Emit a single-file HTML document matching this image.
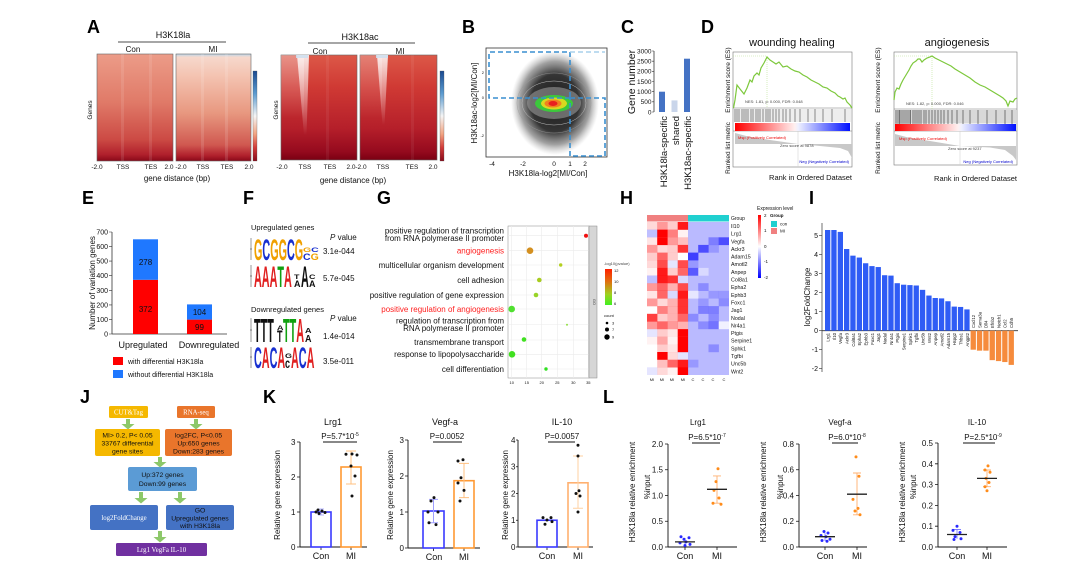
<!DOCTYPE html>
<html><head><meta charset="utf-8">
<style>
html,body{margin:0;padding:0;background:#fff;width:1079px;height:584px;overflow:hidden}
svg{display:block}
text{font-family:"Liberation Sans",Arial,sans-serif;fill:#111}
.s{font-family:"Liberation Serif",serif;fill:#fff;font-size:6.8px}
.pl{font-size:18px;font-weight:bold;fill:#000}
.t6{font-size:6.5px}
.t7{font-size:7px}
.t8{font-size:8px}
.t9{font-size:9px}
.tiny{font-size:4px;fill:#444}
</style></head><body>
<svg width="1079" height="584" viewBox="0 0 1079 584" xmlns="http://www.w3.org/2000/svg">
<defs>
<linearGradient id="laC" x1="0" y1="0" x2="0" y2="1">
<stop offset="0" stop-color="#ec9c88"/><stop offset=".45" stop-color="#e07a68"/><stop offset=".8" stop-color="#cc4a44"/><stop offset=".94" stop-color="#b0202c"/><stop offset="1" stop-color="#880818"/></linearGradient>
<linearGradient id="laM" x1="0" y1="0" x2="0" y2="1">
<stop offset="0" stop-color="#bcd6ea"/><stop offset=".03" stop-color="#f6d8cc"/><stop offset=".2" stop-color="#f4c4b2"/><stop offset=".55" stop-color="#e89880"/><stop offset=".85" stop-color="#d05850"/><stop offset=".95" stop-color="#b0202c"/><stop offset="1" stop-color="#880818"/></linearGradient>
<linearGradient id="ac" x1="0" y1="0" x2="0" y2="1">
<stop offset="0" stop-color="#dc5848"/><stop offset=".3" stop-color="#d03a34"/><stop offset=".7" stop-color="#b51f2a"/><stop offset=".92" stop-color="#950a1e"/><stop offset="1" stop-color="#7a0012"/></linearGradient>
<linearGradient id="vw" x1="0" y1="0" x2="0" y2="1">
<stop offset="0" stop-color="#fff" stop-opacity=".85"/><stop offset="1" stop-color="#fff" stop-opacity="0"/></linearGradient>
<linearGradient id="vw2" x1="0" y1="0" x2="0" y2="1">
<stop offset="0" stop-color="#fff" stop-opacity=".35"/><stop offset=".6" stop-color="#fff" stop-opacity="0"/></linearGradient>
<linearGradient id="cb" x1="0" y1="0" x2="0" y2="1">
<stop offset="0" stop-color="#1a4a90"/><stop offset=".25" stop-color="#5b9bd0"/><stop offset=".5" stop-color="#f5f5f5"/><stop offset=".7" stop-color="#f2a482"/><stop offset=".85" stop-color="#d23c3a"/><stop offset="1" stop-color="#8a0a1a"/></linearGradient>
<radialGradient id="cloud" cx=".5" cy=".5" r=".5">
<stop offset="0" stop-color="#1a1a1a"/><stop offset=".55" stop-color="#2a2a2a" stop-opacity=".95"/><stop offset=".8" stop-color="#555" stop-opacity=".55"/><stop offset="1" stop-color="#999" stop-opacity="0"/></radialGradient>
<linearGradient id="gsea" x1="0" y1="0" x2="1" y2="0">
<stop offset="0" stop-color="#ff0000"/><stop offset=".52" stop-color="#fff0f0"/><stop offset=".55" stop-color="#eef0ff"/><stop offset="1" stop-color="#0010ff"/></linearGradient>
<linearGradient id="gleg" x1="0" y1="0" x2="0" y2="1">
<stop offset="0" stop-color="#ff2000"/><stop offset=".35" stop-color="#e07010"/><stop offset=".7" stop-color="#a0d020"/><stop offset="1" stop-color="#40f020"/></linearGradient>
<linearGradient id="hleg" x1="0" y1="0" x2="0" y2="1">
<stop offset="0" stop-color="#ff0000"/><stop offset=".5" stop-color="#ffffff"/><stop offset="1" stop-color="#0000ff"/></linearGradient>
</defs>

<!-- ============ A ============ -->
<text class="pl" x="87" y="33">A</text>
<text class="t9" x="173" y="38" text-anchor="middle">H3K18la</text>
<line x1="118" y1="42" x2="226" y2="42" stroke="#888" stroke-width="1.5"/>
<text class="t8" x="133" y="52" text-anchor="middle">Con</text>
<text class="t8" x="213" y="52" text-anchor="middle">MI</text>
<rect x="97" y="54" width="76" height="107" fill="url(#laC)" stroke="#666" stroke-width=".6"/>
<rect x="121" y="54" width="3" height="107" fill="#fff" opacity=".1"/>
<rect x="149" y="54" width="3" height="107" fill="#fff" opacity=".1"/>
<rect x="176" y="54" width="75" height="107" fill="url(#laM)" stroke="#666" stroke-width=".6"/>
<rect x="201" y="54" width="3" height="107" fill="#fff" opacity=".12"/>
<rect x="225" y="54" width="3" height="107" fill="#fff" opacity=".12"/>
<rect x="253" y="71" width="4" height="90" fill="url(#cb)" stroke="#555" stroke-width=".3"/>
<text class="t6" x="92" y="110" transform="rotate(-90 92 110)" text-anchor="middle">Genes</text>
<g class="t6" text-anchor="middle">
<text x="97" y="169">-2.0</text><text x="123" y="169">TSS</text><text x="151" y="169">TES</text><text x="169" y="169">2.0</text>
<text x="181" y="169">-2.0</text><text x="203" y="169">TSS</text><text x="227" y="169">TES</text><text x="249" y="169">2.0</text>
</g>
<text class="t8" x="177" y="181" text-anchor="middle">gene distance (bp)</text>

<text class="t9" x="360" y="40" text-anchor="middle">H3K18ac</text>
<line x1="308" y1="43" x2="415" y2="43" stroke="#888" stroke-width="1.5"/>
<text class="t8" x="320" y="54" text-anchor="middle">Con</text>
<text class="t8" x="400" y="54" text-anchor="middle">MI</text>
<rect x="281" y="55" width="76" height="105" fill="url(#ac)" stroke="#666" stroke-width=".6"/>
<rect x="281" y="55" width="23" height="105" fill="url(#vw2)"/>
<polygon points="297,55 309,55 306.5,135 304,135" fill="url(#vw)"/>
<rect x="296" y="55" width="12" height="3" fill="#cfe0f0" opacity=".9"/>
<rect x="326" y="55" width="3" height="105" fill="#fff" opacity=".06"/>
<rect x="360" y="55" width="77" height="105" fill="url(#ac)" stroke="#666" stroke-width=".6"/>
<rect x="360" y="55" width="22" height="105" fill="url(#vw2)" opacity=".7"/>
<polygon points="377,55 388,55 384.5,125 382.5,125" fill="url(#vw)"/>
<rect x="376" y="55" width="12" height="3" fill="#cfe0f0" opacity=".9"/>
<rect x="411" y="55" width="3" height="105" fill="#fff" opacity=".06"/>
<rect x="440" y="71" width="4" height="90" fill="url(#cb)" stroke="#555" stroke-width=".3"/>
<text class="t6" x="278" y="110" transform="rotate(-90 278 110)" text-anchor="middle">Genes</text>
<g class="t6" text-anchor="middle">
<text x="282" y="169">-2.0</text><text x="305" y="169">TSS</text><text x="330" y="169">TES</text><text x="351" y="169">2.0</text>
<text x="361" y="169">-2.0</text><text x="383" y="169">TSS</text><text x="412" y="169">TES</text><text x="433" y="169">2.0</text>
</g>
<text class="t8" x="353" y="183" text-anchor="middle">gene distance (bp)</text>

<!-- ============ B ============ -->
<text class="pl" x="462" y="33">B</text>
<rect x="486" y="48" width="121" height="109" fill="#fff" stroke="#333" stroke-width=".8"/>
<ellipse cx="555" cy="103" rx="44" ry="52" fill="url(#cloud)"/>
<ellipse cx="554" cy="103" rx="27" ry="16" fill="#9a9a9a" opacity=".6"/>
<ellipse cx="554" cy="103" rx="32" ry="22" fill="none" stroke="#bbb" stroke-width=".5"/>
<ellipse cx="554" cy="103" rx="37" ry="30" fill="none" stroke="#999" stroke-width=".4"/>
<ellipse cx="554" cy="103.5" rx="19" ry="8.5" fill="#3cc83c"/>
<ellipse cx="554" cy="103.5" rx="13" ry="6" fill="#d8d820"/>
<ellipse cx="553" cy="103.5" rx="8.5" ry="4" fill="#f08020"/>
<ellipse cx="553" cy="103.5" rx="4.5" ry="2.5" fill="#e82020"/>
<g stroke="#3a8fd0" stroke-width="1.6" stroke-dasharray="5,3" fill="none">
<path d="M570,98 H489 V52 H570 V98"/>
<path d="M570,98 H605 V156 H570 Z"/>
</g>
<line x1="570" y1="52" x2="605" y2="52" stroke="#a8d0ec" stroke-width="1.6" stroke-dasharray="5,3"/>
<g class="tiny" text-anchor="end"><text x="484" y="74">2</text><text x="484" y="99">0</text><text x="484" y="137">-2</text></g>
<g class="t6" text-anchor="middle"><text x="492" y="166">-4</text><text x="523" y="166">-2</text><text x="554" y="166">0</text><text x="570" y="166">1</text><text x="585" y="166">2</text></g>
<text class="t8" x="548" y="176" text-anchor="middle">H3K18la-log2[MI/Con]</text>
<text class="t8" x="477" y="103" transform="rotate(-90 477 103)" text-anchor="middle">H3K18ac-log2[MI/Con]</text>

<!-- ============ C ============ -->
<text class="pl" x="621" y="33">C</text>
<line x1="654" y1="51" x2="654" y2="112" stroke="#333" stroke-width=".8"/>
<g stroke="#333" stroke-width=".6"><path d="M652,51H654M652,61.2H654M652,71.3H654M652,81.5H654M652,91.7H654M652,101.8H654M652,112H654"/></g>
<g style="font-size:6.5px" text-anchor="end">
<text x="651.5" y="53.3">3000</text><text x="651.5" y="63.5">2500</text><text x="651.5" y="73.6">2000</text><text x="651.5" y="83.8">1500</text><text x="651.5" y="94">1000</text><text x="651.5" y="104.1">500</text><text x="651.5" y="114.3">0</text>
</g>
<text x="635" y="82" transform="rotate(-90 635 82)" text-anchor="middle" style="font-size:10.5px">Gene number</text>
<rect x="659" y="91.7" width="6" height="20.3" fill="#4472c4"/>
<rect x="671.5" y="100.4" width="6" height="11.6" fill="#c9d5ea"/>
<rect x="684" y="58.7" width="6" height="53.3" fill="#4472c4"/>
<g style="font-size:9.5px" text-anchor="end">
<text x="667" y="116" transform="rotate(-90 667 116)">H3K18la-specific</text>
<text x="679" y="116" transform="rotate(-90 679 116)">shared</text>
<text x="691" y="116" transform="rotate(-90 691 116)">H3K18ac-specific</text>
</g>

<!-- ============ D ============ -->
<text class="pl" x="701" y="33">D</text>
<text x="792" y="46" text-anchor="middle" style="font-size:11px">wounding healing</text>
<rect x="733" y="52" width="119" height="115" fill="#fff" stroke="#777" stroke-width=".6"/>
<line x1="733" y1="108" x2="852" y2="108" stroke="#777" stroke-width=".5"/>
<line x1="733" y1="131" x2="852" y2="131" stroke="#777" stroke-width=".5"/>
<rect x="734" y="109" width="117" height="13" fill="#eee"/>
<path d="M735 109V122M737 109V122M739 109V122M742 109V122M744 109V122M746 109V122M748 109V122M751 109V122M753 109V122M756 109V122M758 109V122M760 109V122M763 109V122M766 109V122M768 109V122M770 109V122M773 109V122M776 109V122M779 109V122M783 109V122M786 109V122M790 109V122M795 109V122M800 109V122M808 109V122M815 109V122M823 109V122M832 109V122M845 109V122" stroke="#222" stroke-width=".5"/>
<rect x="735" y="123" width="115" height="8" fill="url(#gsea)"/>
<path d="M735,133 L750,137 L770,140 L798,144 L820,146 L840,148 L848,151 L852,158 L852,144 L735,144 Z" fill="#c8c8c8"/>
<line x1="798" y1="131" x2="798" y2="167" stroke="#ccc" stroke-width=".5"/>
<line x1="733" y1="56" x2="767" y2="56" stroke="#b8e090" stroke-width=".6" stroke-dasharray="1,1"/>
<line x1="767" y1="56" x2="767" y2="108" stroke="#b8e090" stroke-width=".6" stroke-dasharray="1,1"/>
<path d="M733.5,108 L735,100 737,85 740,89 744,94 747,88 750,80 752,82 754,76 757,73 759,75 761,68 764,63 767,57 770,60 773,62 776,64 779,62 783,67 787,66 791,69 795,71 799,72 803,75 807,77 811,80 815,82 819,84 823,87 827,88 831,91 835,93 838,96 840,97 843,99 845,98 847,102 850,105 852,108" fill="none" stroke="#7dc83c" stroke-width="1.2"/>
<text class="tiny" x="745" y="103">NES: 1.81, p: 0.000, FDR: 0.048</text>
<text class="tiny" x="738" y="139" style="fill:#e00">Msp (Positively Correlated)</text>
<text class="tiny" x="780" y="147">Zero score at 9878</text>
<text class="tiny" x="849" y="163" text-anchor="end" style="fill:#00c">Neg (Negatively Correlated)</text>
<text x="730" y="80" transform="rotate(-90 730 80)" text-anchor="middle" style="font-size:6.5px">Enrichment score (ES)</text>
<text x="730" y="148" transform="rotate(-90 730 148)" text-anchor="middle" style="font-size:6.5px">Ranked list metric</text>
<text x="852" y="180" text-anchor="end" style="font-size:7.5px">Rank in Ordered Dataset</text>

<text x="957" y="46" text-anchor="middle" style="font-size:11px">angiogenesis</text>
<rect x="894" y="52" width="123" height="113" fill="#fff" stroke="#777" stroke-width=".6"/>
<line x1="894" y1="109" x2="1017" y2="109" stroke="#777" stroke-width=".5"/>
<line x1="894" y1="131" x2="1017" y2="131" stroke="#777" stroke-width=".5"/>
<rect x="895" y="110" width="121" height="13.5" fill="#d8d8d8"/>
<path d="M896 110V124M898 110V124M899.5 110V124M901 110V124M903 110V124M905 110V124M907 110V124M909 110V124M910.5 110V124M913 110V124M915 110V124M917 110V124M919 110V124M921 110V124M924 110V124M926 110V124M929 110V124M932 110V124M935 110V124M938 110V124M941 110V124M944 110V124M948 110V124M952 110V124M957 110V124M963 110V124M970 110V124M978 110V124M987 110V124M996 110V124M1005 110V124M1012 110V124" stroke="#222" stroke-width=".55"/>
<rect x="895" y="124" width="121" height="7" fill="url(#gsea)"/>
<path d="M895,134 L910,138 L930,141 L960,146 L990,147.5 L1005,150 L1013,156 L1016,160 L1016,146 L895,146 Z" fill="#c8c8c8"/>
<line x1="960" y1="131" x2="960" y2="165" stroke="#ccc" stroke-width=".5"/>
<line x1="894" y1="56" x2="932" y2="56" stroke="#b8e090" stroke-width=".6" stroke-dasharray="1,1"/>
<line x1="932" y1="56" x2="932" y2="109" stroke="#b8e090" stroke-width=".6" stroke-dasharray="1,1"/>
<path d="M894,100 L895,92 897,88 899,89 901,84 903,80 906,75 909,70 911,66 913,63 916,61 918,59 920,59 922,62 924,60 927,58 930,57 932,56 935,58 939,60 943,62 947,64 951,66 955,69 960,72 965,75 970,78 975,82 980,85 985,87 990,90 995,93 1000,96 1003,98 1006,101 1008,106 1010,101 1013,102 1015,99 1017,98" fill="none" stroke="#7dc83c" stroke-width="1.2"/>
<text class="tiny" x="906" y="105">NES: 1.82, p: 0.000, FDR: 0.046</text>
<text class="tiny" x="899" y="140" style="fill:#e00">Msp (Positively Correlated)</text>
<text class="tiny" x="948" y="150">Zero score at 9237</text>
<text class="tiny" x="1013" y="163" text-anchor="end" style="fill:#00c">Neg (Negatively Correlated)</text>
<text x="880" y="80" transform="rotate(-90 880 80)" text-anchor="middle" style="font-size:6.5px">Enrichment score (ES)</text>
<text x="880" y="148" transform="rotate(-90 880 148)" text-anchor="middle" style="font-size:6.5px">Ranked list metric</text>
<text x="1017" y="181" text-anchor="end" style="font-size:7.5px">Rank in Ordered Dataset</text>

<!-- ============ E ============ -->
<text class="pl" x="82" y="204">E</text>
<line x1="112" y1="232" x2="112" y2="334" stroke="#333" stroke-width=".8"/>
<line x1="112" y1="334" x2="227" y2="334" stroke="#333" stroke-width=".8"/>
<path d="M109,232H112M109,246.6H112M109,261.1H112M109,275.7H112M109,290.3H112M109,304.9H112M109,319.4H112M109,334H112" stroke="#333" stroke-width=".6"/>
<g class="t7" text-anchor="end">
<text x="108" y="234.5">700</text><text x="108" y="249">600</text><text x="108" y="263.5">500</text><text x="108" y="278">400</text><text x="108" y="292.8">300</text><text x="108" y="307.4">200</text><text x="108" y="322">100</text><text x="108" y="336.5">0</text>
</g>
<rect x="133" y="279.8" width="25" height="54.2" fill="#ff0000"/>
<rect x="133" y="239.3" width="25" height="40.5" fill="#1f78ff"/>
<rect x="187" y="319.6" width="25" height="14.4" fill="#ff0000"/>
<rect x="187" y="304.4" width="25" height="15.2" fill="#1f78ff"/>
<g class="t8" text-anchor="middle">
<text x="145.5" y="265">278</text><text x="145.5" y="312">372</text><text x="199.5" y="315">104</text><text x="199.5" y="330">99</text>
</g>
<text class="t8" x="95" y="283" transform="rotate(-90 95 283)" text-anchor="middle">Number of variation genes</text>
<text class="t9" x="143" y="348" text-anchor="middle">Upregulated</text>
<text class="t9" x="209" y="348" text-anchor="middle">Downregulated</text>
<rect x="113" y="357" width="10" height="8" fill="#ff0000"/>
<rect x="113" y="370" width="10" height="8" fill="#1f78ff"/>
<text class="t7" x="128" y="364">with differential H3K18la</text>
<text class="t7" x="128" y="377">without differential H3K18la</text>

<!-- ============ F ============ -->
<text class="pl" x="243" y="204">F</text>
<text x="251" y="230" style="font-size:7.5px">Upregulated genes</text>
<text class="t8" x="330" y="240"><tspan font-style="italic">P</tspan> value</text>
<text class="t8" x="323" y="254">3.1e-044</text>
<text class="t8" x="323" y="281">5.7e-045</text>
<text x="251" y="312" style="font-size:7.5px">Downregulated genes</text>
<text class="t8" x="330" y="321"><tspan font-style="italic">P</tspan> value</text>
<text class="t8" x="323" y="339">1.4e-014</text>
<text class="t8" x="323" y="364">3.5e-011</text>
<g stroke="#333" stroke-width=".5"><path d="M251,238V260M251,265V287M251,318V342M251,347V368M250,249H252M250,276H252M250,330H252M250,357H252"/></g>
<g transform="translate(254,260) scale(0.36,1)" style="font-size:30px;font-weight:bold">
<text x="0" y="0"><tspan fill="#f0a000">G</tspan><tspan fill="#1830d0">C</tspan><tspan fill="#f0a000">GG</tspan><tspan fill="#1830d0">C</tspan><tspan fill="#f0a000">G</tspan></text>
</g>
<g transform="translate(303,260) scale(0.35,0.3)" style="font-size:30px;font-weight:bold"><text x="0" y="0"><tspan fill="#1830d0">C</tspan><tspan fill="#f0a000">G</tspan></text></g>
<g transform="translate(303,252) scale(0.35,0.2)" style="font-size:30px;font-weight:bold"><text x="0" y="0"><tspan fill="#f0a000">G</tspan><tspan fill="#1830d0">C</tspan></text></g>
<g transform="translate(254,287) scale(0.36,1)" style="font-size:30px;font-weight:bold">
<text x="0" y="0"><tspan fill="#e02020">AAA</tspan><tspan fill="#10a010">T</tspan><tspan fill="#e02020">A</tspan></text>
</g>
<g transform="translate(294,287) scale(0.3,0.3)" style="font-size:30px;font-weight:bold"><text x="0" y="0" fill="#e02020">A</text></g>
<g transform="translate(294,279) scale(0.3,0.2)" style="font-size:30px;font-weight:bold"><text x="0" y="0" fill="#10a010">T</text></g>
<g transform="translate(301,287) scale(0.36,1)" style="font-size:30px;font-weight:bold"><text x="0" y="0" fill="#e02020">A</text></g>
<g transform="translate(309,287) scale(0.3,0.3)" style="font-size:30px;font-weight:bold"><text x="0" y="0" fill="#e02020">A</text></g>
<g transform="translate(309,279) scale(0.3,0.2)" style="font-size:30px;font-weight:bold"><text x="0" y="0" fill="#1830d0">C</text></g>
<g transform="translate(254,342) scale(0.36,1.1)" style="font-size:30px;font-weight:bold">
<text x="0" y="0" fill="#10a010">TTT</text>
</g>
<g transform="translate(277,342) scale(0.3,0.55)" style="font-size:30px;font-weight:bold"><text x="0" y="0" fill="#10a010">T</text></g>
<g transform="translate(277,330) scale(0.3,0.2)" style="font-size:30px;font-weight:bold"><text x="0" y="0" fill="#e02020">A</text></g>
<g transform="translate(283,342) scale(0.36,1.1)" style="font-size:30px;font-weight:bold">
<text x="0" y="0"><tspan fill="#10a010">TT</tspan><tspan fill="#e02020">A</tspan></text>
</g>
<g transform="translate(305,342) scale(0.3,0.35)" style="font-size:30px;font-weight:bold"><text x="0" y="0" fill="#e02020">A</text></g>
<g transform="translate(305,333) scale(0.3,0.25)" style="font-size:30px;font-weight:bold"><text x="0" y="0" fill="#e02020">A</text></g>
<g transform="translate(254,368) scale(0.36,1)" style="font-size:30px;font-weight:bold">
<text x="0" y="0"><tspan fill="#1830d0">C</tspan><tspan fill="#e02020">A</tspan><tspan fill="#1830d0">C</tspan><tspan fill="#e02020">A</tspan></text>
</g>
<g transform="translate(285,368) scale(0.3,0.45)" style="font-size:30px;font-weight:bold"><text x="0" y="0" fill="#1830d0">c</text></g>
<g transform="translate(285,358) scale(0.3,0.2)" style="font-size:30px;font-weight:bold"><text x="0" y="0" fill="#f0a000">G</text></g>
<g transform="translate(291,368) scale(0.36,1)" style="font-size:30px;font-weight:bold">
<text x="0" y="0"><tspan fill="#e02020">A</tspan><tspan fill="#1830d0">C</tspan><tspan fill="#e02020">A</tspan></text>
</g>

<!-- ============ G ============ -->
<text class="pl" x="377" y="204">G</text>
<rect x="508" y="226" width="81" height="152" fill="#fff" stroke="#888" stroke-width=".5"/>
<g stroke="#ebebeb" stroke-width=".6">
<path d="M511.7,226V378M526.7,226V378M541.7,226V378M557.3,226V378M573.3,226V378M588.3,226V378"/>
<path d="M508,235.7H589M508,250.7H589M508,265H589M508,280H589M508,295H589M508,309H589M508,324.5H589M508,340H589M508,354.3H589M508,369H589"/>
</g>
<rect x="589" y="226" width="8" height="152" fill="#d6d6d6" stroke="#888" stroke-width=".5"/>
<text class="tiny" x="593" y="302" transform="rotate(90 593 302)" text-anchor="middle">GO</text>
<g text-anchor="end" style="font-size:8px">
<text x="504" y="233.3">positive regulation of transcription</text>
<text x="504" y="241.1">from RNA polymerase II promoter</text>
<text x="504" y="253.5" style="fill:#ff2020">angiogenesis</text>
<text x="504" y="267.8">multicellular organism development</text>
<text x="504" y="282.8">cell adhesion</text>
<text x="504" y="297.8">positive regulation of gene expression</text>
<text x="504" y="311.8" style="fill:#ff2020">positive regulation of angiogenesis</text>
<text x="504" y="323.3">regulation of transcription from</text>
<text x="504" y="331.1">RNA polymerase II promoter</text>
<text x="504" y="345">transmembrane transport</text>
<text x="504" y="357.1">response to lipopolysaccharide</text>
<text x="504" y="371.8">cell differentiation</text>
</g>
<circle cx="586" cy="235.7" r="2" fill="#f01010"/>
<circle cx="530" cy="250.7" r="3.3" fill="#d49020"/>
<circle cx="560.7" cy="265" r="1.7" fill="#b4d020"/>
<circle cx="539.3" cy="280" r="2.3" fill="#a8cc20"/>
<circle cx="536" cy="295" r="2.3" fill="#98d428"/>
<circle cx="511.7" cy="309" r="3.3" fill="#50e030"/>
<circle cx="567" cy="324.7" r="1" fill="#90e040"/>
<circle cx="524" cy="339.5" r="2.3" fill="#40e020"/>
<circle cx="512" cy="354.3" r="3.3" fill="#40e020"/>
<circle cx="546" cy="369" r="1.7" fill="#30e020"/>
<g class="tiny" text-anchor="middle"><text x="511.7" y="384">10</text><text x="526.7" y="384">15</text><text x="541.7" y="384">20</text><text x="557.3" y="384">25</text><text x="573.3" y="384">30</text><text x="588.3" y="384">35</text></g>
<text class="tiny" x="604" y="265">-log10(pvalue)</text>
<rect x="605" y="269" width="7" height="36" fill="url(#gleg)"/>
<g class="tiny"><text x="614" y="272">12</text><text x="614" y="283">10</text><text x="614" y="294">8</text><text x="614" y="305">6</text>
<text x="604" y="317">count</text><text x="612" y="324.5">3</text><text x="612" y="331">7</text><text x="612" y="338.5">9</text></g>
<circle cx="607" cy="323" r="1.3" fill="#000"/>
<circle cx="607" cy="329.5" r="2" fill="#000"/>
<circle cx="607" cy="337" r="2.7" fill="#000"/>

<!-- ============ H ============ -->
<text class="pl" x="620" y="204">H</text>
<rect x="647" y="215" width="41" height="6.5" fill="#f08080"/>
<rect x="688" y="215" width="41" height="6.5" fill="#20d0d0"/>
<text x="731" y="220" style="font-size:5px">Group</text>
<rect x="647" y="222" width="82" height="153" fill="#fff"/>
<rect x="688" y="222" width="41" height="153" fill="#0000ff" opacity=".27"/>
<g fill="#f00">
<rect x="647" y="222" width="10.4" height="7.8" opacity=".15"/><rect x="657.2" y="222" width="10.4" height="7.8" opacity=".4"/><rect x="667.5" y="222" width="10.4" height="7.8" opacity=".2"/><rect x="677.7" y="222" width="10.4" height="7.8" opacity=".9"/>
<rect x="657.2" y="229.6" width="10.4" height="7.8" opacity="1"/><rect x="667.5" y="229.6" width="10.4" height="7.8" opacity=".5"/><rect x="677.7" y="229.6" width="10.4" height="7.8" opacity=".05"/>
<rect x="647" y="237.3" width="10.4" height="7.8" opacity=".1"/><rect x="657.2" y="237.3" width="10.4" height="7.8" opacity="1"/><rect x="667.5" y="237.3" width="10.4" height="7.8" opacity=".4"/><rect x="677.7" y="237.3" width="10.4" height="7.8" opacity=".25"/>
<rect x="647" y="244.9" width="10.4" height="7.8" opacity=".4"/><rect x="657.2" y="244.9" width="10.4" height="7.8" opacity=".15"/><rect x="667.5" y="244.9" width="10.4" height="7.8" opacity=".2"/><rect x="677.7" y="244.9" width="10.4" height="7.8" opacity=".8"/>
<rect x="647" y="252.6" width="10.4" height="7.8" opacity=".2"/><rect x="657.2" y="252.6" width="10.4" height="7.8" opacity=".6"/><rect x="667.5" y="252.6" width="10.4" height="7.8" opacity=".2"/>
<rect x="647" y="260.2" width="10.4" height="7.8" opacity=".15"/><rect x="657.2" y="260.2" width="10.4" height="7.8" opacity=".7"/><rect x="677.7" y="260.2" width="10.4" height="7.8" opacity=".7"/>
<rect x="647" y="267.9" width="10.4" height="7.8" opacity=".05"/><rect x="657.2" y="267.9" width="10.4" height="7.8" opacity=".9"/><rect x="667.5" y="267.9" width="10.4" height="7.8" opacity=".2"/><rect x="677.7" y="267.9" width="10.4" height="7.8" opacity=".6"/>
<rect x="657.2" y="275.5" width="10.4" height="7.8" opacity=".9"/><rect x="667.5" y="275.5" width="10.4" height="7.8" opacity=".8"/>
<rect x="647" y="283.2" width="10.4" height="7.8" opacity=".4"/><rect x="657.2" y="283.2" width="10.4" height="7.8" opacity=".6"/><rect x="667.5" y="283.2" width="10.4" height="7.8" opacity=".3"/><rect x="677.7" y="283.2" width="10.4" height="7.8" opacity=".7"/>
<rect x="647" y="290.8" width="10.4" height="7.8" opacity=".1"/><rect x="657.2" y="290.8" width="10.4" height="7.8" opacity=".6"/><rect x="677.7" y="290.8" width="10.4" height="7.8" opacity=".9"/>
<rect x="647" y="298.5" width="10.4" height="7.8" opacity=".4"/><rect x="657.2" y="298.5" width="10.4" height="7.8" opacity=".15"/><rect x="667.5" y="298.5" width="10.4" height="7.8" opacity=".3"/><rect x="677.7" y="298.5" width="10.4" height="7.8" opacity=".8"/>
<rect x="657.2" y="306.1" width="10.4" height="7.8" opacity=".5"/><rect x="667.5" y="306.1" width="10.4" height="7.8" opacity=".3"/><rect x="677.7" y="306.1" width="10.4" height="7.8" opacity=".8"/>
<rect x="647" y="313.8" width="10.4" height="7.8" opacity=".75"/><rect x="657.2" y="313.8" width="10.4" height="7.8" opacity=".2"/><rect x="667.5" y="313.8" width="10.4" height="7.8" opacity=".3"/><rect x="677.7" y="313.8" width="10.4" height="7.8" opacity=".6"/>
<rect x="647" y="321.4" width="10.4" height="7.8" opacity=".4"/><rect x="657.2" y="321.4" width="10.4" height="7.8" opacity=".6"/><rect x="667.5" y="321.4" width="10.4" height="7.8" opacity=".4"/><rect x="677.7" y="321.4" width="10.4" height="7.8" opacity=".3"/>
<rect x="657.2" y="329.1" width="10.4" height="7.8" opacity=".2"/><rect x="667.5" y="329.1" width="10.4" height="7.8" opacity=".1"/><rect x="677.7" y="329.1" width="10.4" height="7.8" opacity="1"/>
<rect x="647" y="336.7" width="10.4" height="7.8" opacity=".05"/><rect x="657.2" y="336.7" width="10.4" height="7.8" opacity=".35"/><rect x="667.5" y="336.7" width="10.4" height="7.8" opacity=".05"/><rect x="677.7" y="336.7" width="10.4" height="7.8" opacity="1"/>
<rect x="657.2" y="344.4" width="10.4" height="7.8" opacity=".2"/><rect x="667.5" y="344.4" width="10.4" height="7.8" opacity=".1"/><rect x="677.7" y="344.4" width="10.4" height="7.8" opacity="1"/>
<rect x="657.2" y="352" width="10.4" height="7.8" opacity="1"/><rect x="667.5" y="352" width="10.4" height="7.8" opacity=".15"/>
<rect x="657.2" y="359.7" width="10.4" height="7.8" opacity=".25"/><rect x="667.5" y="359.7" width="10.4" height="7.8" opacity=".6"/><rect x="677.7" y="359.7" width="10.4" height="7.8" opacity=".9"/>
<rect x="657.2" y="367.3" width="10.4" height="7.7" opacity=".15"/><rect x="667.5" y="367.3" width="10.4" height="7.7" opacity=".05"/><rect x="677.7" y="367.3" width="10.4" height="7.7" opacity="1"/>
</g>
<g fill="#00f">
<rect x="647" y="229.6" width="10.4" height="7.8" opacity=".25"/>
<rect x="667.5" y="260.2" width="10.4" height="7.8" opacity=".1"/>
<rect x="647" y="275.5" width="10.4" height="7.8" opacity=".25"/><rect x="677.7" y="275.5" width="10.4" height="7.8" opacity=".15"/>
<rect x="667.5" y="290.8" width="10.4" height="7.8" opacity=".15"/>
<rect x="647" y="329.1" width="10.4" height="7.8" opacity=".1"/>
<rect x="677.7" y="352" width="10.4" height="7.8" opacity=".1"/>
<rect x="647" y="367.3" width="10.4" height="7.7" opacity=".1"/>
<rect x="708.5" y="237.3" width="10.4" height="7.8" opacity=".32"/><rect x="718.7" y="237.3" width="10.3" height="7.8" opacity=".59"/>
<rect x="698.2" y="244.9" width="10.4" height="7.8" opacity=".59"/><rect x="708.5" y="244.9" width="10.4" height="7.8" opacity=".18"/>
<rect x="688" y="252.6" width="10.4" height="7.8" opacity=".66"/>
<rect x="688" y="260.2" width="10.4" height="7.8" opacity=".18"/>
<rect x="688" y="267.9" width="10.4" height="7.8" opacity=".52"/>
<rect x="698.2" y="283.2" width="10.4" height="7.8" opacity=".25"/>
<rect x="708.5" y="290.8" width="10.4" height="7.8" opacity=".18"/><rect x="718.7" y="290.8" width="10.3" height="7.8" opacity=".18"/>
<rect x="698.2" y="298.5" width="10.4" height="7.8" opacity=".18"/><rect x="718.7" y="298.5" width="10.3" height="7.8" opacity=".25"/>
<rect x="698.2" y="306.1" width="10.4" height="7.8" opacity=".32"/><rect x="708.5" y="306.1" width="10.4" height="7.8" opacity=".32"/>
<rect x="688" y="313.8" width="10.4" height="7.8" opacity=".25"/><rect x="708.5" y="313.8" width="10.4" height="7.8" opacity=".25"/>
<rect x="698.2" y="321.4" width="10.4" height="7.8" opacity=".25"/><rect x="708.5" y="321.4" width="10.4" height="7.8" opacity=".38"/>
<rect x="708.5" y="344.4" width="10.4" height="7.8" opacity=".25"/>
<rect x="688" y="359.7" width="10.4" height="7.8" opacity=".18"/>
</g>
<g fill="#fff">
<rect x="698.2" y="267.9" width="10.4" height="7.8" opacity=".45"/>
<rect x="688" y="290.8" width="10.4" height="7.8" opacity=".63"/>
<rect x="718.7" y="321.4" width="10.3" height="7.8" opacity=".8"/>
</g>
<g style="font-size:5.3px">
<text x="731" y="228">Il10</text><text x="731" y="235.6">Lrg1</text><text x="731" y="243.3">Vegfa</text><text x="731" y="250.9">Ackr3</text><text x="731" y="258.6">Adam15</text><text x="731" y="266.2">Amotl2</text><text x="731" y="273.9">Anpep</text><text x="731" y="281.5">Col8a1</text><text x="731" y="289.2">Epha2</text><text x="731" y="296.8">Ephb3</text><text x="731" y="304.5">Foxc1</text><text x="731" y="312.1">Jag1</text><text x="731" y="319.8">Nodal</text><text x="731" y="327.4">Nr4a1</text><text x="731" y="335.1">Ptgis</text><text x="731" y="342.7">Serpine1</text><text x="731" y="350.4">Sphk1</text><text x="731" y="358">Tgfbi</text><text x="731" y="365.7">Unc5b</text><text x="731" y="373.3">Wnt2</text>
</g>
<g class="tiny" text-anchor="middle"><text x="652" y="381">MI</text><text x="662" y="381">MI</text><text x="672" y="381">MI</text><text x="683" y="381">MI</text><text x="693" y="381">C</text><text x="703" y="381">C</text><text x="713" y="381">C</text><text x="724" y="381">C</text></g>
<text x="757" y="210" style="font-size:5px">Expression level</text>
<rect x="758" y="215" width="3" height="63" fill="url(#hleg)"/>
<g style="font-size:4.5px"><text x="764" y="217">2</text><text x="764" y="232">1</text><text x="764" y="248">0</text><text x="764" y="263">-1</text><text x="764" y="279">-2</text></g>
<text x="770" y="217" style="font-size:4.5px;font-weight:bold">Group</text>
<rect x="771" y="221" width="6" height="6" fill="#20d0d0"/>
<rect x="771" y="228" width="6" height="6" fill="#f08080"/>
<g style="font-size:4.5px"><text x="780" y="225.5">con</text><text x="780" y="232.5">MI</text></g>

<!-- ============ I ============ -->
<text class="pl" x="809" y="204">I</text>
<line x1="822" y1="223" x2="822" y2="372" stroke="#333" stroke-width=".7"/>
<line x1="822" y1="330.7" x2="1018" y2="330.7" stroke="#333" stroke-width=".8"/>
<path d="M819,235.7H822M819,254.7H822M819,273.7H822M819,292.7H822M819,311.7H822M819,330.7H822M819,349.7H822M819,368.7H822" stroke="#333" stroke-width=".6"/>
<g class="t7" text-anchor="end">
<text x="818" y="238">5</text><text x="818" y="257">4</text><text x="818" y="276">3</text><text x="818" y="295">2</text><text x="818" y="314">1</text><text x="818" y="333">0</text><text x="818" y="352">-1</text><text x="818" y="371">-2</text>
</g>
<text class="t8" x="810" y="297" transform="rotate(-90 810 297)" text-anchor="middle">log2FoldChange</text>
<g fill="#2f5cf5">
<rect x="825" y="230" width="5.3" height="100.7"/><rect x="831.3" y="230" width="5.3" height="100.7"/><rect x="837.7" y="231.9" width="5.3" height="98.8"/><rect x="844" y="249" width="5.3" height="81.7"/><rect x="850.3" y="255.65" width="5.3" height="75.05"/><rect x="856.7" y="257.55" width="5.3" height="73.15"/><rect x="863" y="263.25" width="5.3" height="67.45"/><rect x="869.3" y="266.1" width="5.3" height="64.6"/><rect x="875.6" y="267.05" width="5.3" height="63.65"/><rect x="882" y="275.22" width="5.3" height="55.48"/><rect x="888.3" y="275.6" width="5.3" height="55.1"/><rect x="894.6" y="283.2" width="5.3" height="47.5"/><rect x="901" y="284.7" width="5.3" height="46"/><rect x="907.3" y="285.1" width="5.3" height="45.6"/><rect x="913.6" y="285.5" width="5.3" height="45.2"/><rect x="919.9" y="289.85" width="5.3" height="40.85"/><rect x="926.3" y="295.55" width="5.3" height="35.15"/><rect x="932.6" y="298" width="5.3" height="32.7"/><rect x="938.9" y="298.4" width="5.3" height="32.3"/><rect x="945.3" y="301.25" width="5.3" height="29.45"/><rect x="951.6" y="306.6" width="5.3" height="24.1"/><rect x="957.9" y="306.95" width="5.3" height="23.75"/><rect x="964.3" y="309.4" width="5.3" height="21.3"/>
</g>
<g fill="#f68b3c">
<rect x="970.6" y="330.7" width="5.3" height="19"/><rect x="976.9" y="330.7" width="5.3" height="19.95"/><rect x="983.3" y="330.7" width="5.3" height="19.95"/><rect x="989.6" y="330.7" width="5.3" height="29.45"/><rect x="995.9" y="330.7" width="5.3" height="30.4"/><rect x="1002.2" y="330.7" width="5.3" height="31.35"/><rect x="1008.6" y="330.7" width="5.3" height="34.2"/>
</g>
<g style="font-size:4.3px;fill:#333" text-anchor="end">
<text transform="translate(829.5,333) rotate(-90)">Lrg1</text><text transform="translate(835.8,333) rotate(-90)">Il10</text><text transform="translate(842.2,333) rotate(-90)">Vegfa</text><text transform="translate(848.5,333) rotate(-90)">Ackr3</text><text transform="translate(854.8,333) rotate(-90)">Col8a1</text><text transform="translate(861.2,333) rotate(-90)">Epha2</text><text transform="translate(867.5,333) rotate(-90)">Ephb3</text><text transform="translate(873.8,333) rotate(-90)">Foxc1</text><text transform="translate(880.1,333) rotate(-90)">Jag1</text><text transform="translate(886.5,333) rotate(-90)">Nodal</text><text transform="translate(892.8,333) rotate(-90)">Nr4a1</text><text transform="translate(899.1,333) rotate(-90)">Ptgis</text><text transform="translate(905.5,333) rotate(-90)">Serpine1</text><text transform="translate(911.8,333) rotate(-90)">Sphk1</text><text transform="translate(918.1,333) rotate(-90)">Tgfbi</text><text transform="translate(924.4,333) rotate(-90)">Unc5b</text><text transform="translate(930.8,333) rotate(-90)">Wnt2</text><text transform="translate(937.1,333) rotate(-90)">Anpep</text><text transform="translate(943.4,333) rotate(-90)">Amotl2</text><text transform="translate(949.8,333) rotate(-90)">Adam15</text><text transform="translate(956.1,333) rotate(-90)">Hspg2</text><text transform="translate(962.4,333) rotate(-90)">Thbs1</text><text transform="translate(968.8,333) rotate(-90)">Angpt2</text>
</g>
<g style="font-size:4.3px;fill:#333" text-anchor="start">
<text transform="translate(975,328) rotate(-90)">Cxcl12</text><text transform="translate(981.3,328) rotate(-90)">Sema3a</text><text transform="translate(987.7,328) rotate(-90)">Dll4</text><text transform="translate(994,328) rotate(-90)">Efnb2</text><text transform="translate(1000.3,328) rotate(-90)">Notch1</text><text transform="translate(1006.6,328) rotate(-90)">Ccl2</text><text transform="translate(1013,328) rotate(-90)">Cdh5</text>
</g>

<!-- ============ J ============ -->
<text class="pl" x="80" y="403">J</text>
<g fill="#8dc86a">
<path d="M126,419h4v5h4.5l-6.5,5.5l-6.5,-5.5h4.5z"/>
<path d="M194,419h4v5h4.5l-6.5,5.5l-6.5,-5.5h4.5z"/>
<path d="M158,457h4v5h4.5l-6.5,5.5l-6.5,-5.5h4.5z"/>
<path d="M139,492h4v6h4.5l-6.5,5.5l-6.5,-5.5h4.5z"/>
<path d="M178,492h4v6h4.5l-6.5,5.5l-6.5,-5.5h4.5z"/>
<path d="M158,531h4v6h4.5l-6.5,5.5l-6.5,-5.5h4.5z"/>
</g>
<rect x="109" y="406" width="39" height="12" rx="1.5" fill="#f5b800"/>
<text class="s" x="128.5" y="414.5" text-anchor="middle">CUT&amp;Tag</text>
<rect x="177" y="406" width="38" height="12" rx="1.5" fill="#e9752b"/>
<text class="s" x="196" y="414.5" text-anchor="middle">RNA-seq</text>
<rect x="95" y="429" width="65" height="27" rx="2" fill="#f5b800"/>
<g class="s" text-anchor="middle"><text x="127.5" y="437.5">MI&gt; 0.2, P&lt; 0.05</text><text x="127.5" y="445.5">33767 differential</text><text x="127.5" y="453.5">gene sites</text></g>
<rect x="165" y="429" width="67" height="27" rx="2" fill="#e9752b"/>
<g class="s" text-anchor="middle"><text x="198.5" y="437.5">log2FC, P&lt;0.05</text><text x="198.5" y="445.5">Up:650 genes</text><text x="198.5" y="453.5">Down:283 genes</text></g>
<rect x="128" y="467" width="69" height="24" rx="2" fill="#5b9bd5"/>
<g class="s" text-anchor="middle"><text x="162.5" y="477">Up:372 genes</text><text x="162.5" y="486">Down:99 genes</text></g>
<rect x="90" y="505" width="68" height="25" rx="2" fill="#4472c4"/>
<text class="s" x="124" y="520" text-anchor="middle">log2FoldChange</text>
<rect x="166" y="505" width="68" height="25" rx="2" fill="#4472c4"/>
<g class="s" text-anchor="middle"><text x="200" y="512.5">GO</text><text x="200" y="520.5">Upregulated genes</text><text x="200" y="528">with H3K18la</text></g>
<rect x="116" y="543" width="91" height="13" rx="1.5" fill="#7030a0"/>
<text class="s" x="161.5" y="552" text-anchor="middle">Lrg1  VegFa  IL-10</text>

<!-- ============ K ============ -->
<text class="pl" x="263" y="403">K</text>
<text class="t9" x="333" y="425" text-anchor="middle">Lrg1</text>
<text class="t8" x="340" y="439" text-anchor="middle">P=5.7*10<tspan dy="-3" style="font-size:5px">-5</tspan></text>
<line x1="323" y1="442" x2="357" y2="442" stroke="#111" stroke-width=".9"/>
<line x1="300" y1="442" x2="300" y2="547" stroke="#111" stroke-width=".9"/>
<line x1="300" y1="547" x2="367" y2="547" stroke="#111" stroke-width=".9"/>
<path d="M297,442H300M297,477H300M297,512H300M297,547H300M321,547V550M351,547V550" stroke="#111" stroke-width=".8"/>
<g class="t8" text-anchor="end"><text x="295.5" y="445">3</text><text x="295.5" y="480">2</text><text x="295.5" y="515">1</text><text x="295.5" y="550">0</text></g>
<rect x="311" y="512" width="20" height="35" fill="#fff" stroke="#3a3aff" stroke-width="1.6"/>
<rect x="341" y="467" width="20" height="80" fill="#fff" stroke="#ff9933" stroke-width="1.6"/>
<path d="M321,509V515M318,509H324M318,515H324" stroke="#9f9fff" stroke-width=".8"/>
<path d="M351,451V484M346,451H356M346,484H356" stroke="#ffc080" stroke-width="1"/>
<g fill="#111"><circle cx="316" cy="512" r="1.5"/><circle cx="319" cy="513.5" r="1.5"/><circle cx="322" cy="511" r="1.5"/><circle cx="325" cy="512.5" r="1.5"/><circle cx="318" cy="510" r="1.5"/>
<circle cx="346" cy="454.3" r="1.5"/><circle cx="352" cy="454" r="1.5"/><circle cx="357" cy="455" r="1.5"/><circle cx="351" cy="466" r="1.5"/><circle cx="355" cy="476" r="1.5"/><circle cx="352" cy="496" r="1.5"/></g>
<text class="t8" x="280" y="495" transform="rotate(-90 280 495)" text-anchor="middle">Relative gene expression</text>
<text class="t9" x="321" y="559" text-anchor="middle">Con</text>
<text class="t9" x="351" y="559" text-anchor="middle">MI</text>
<text class="t9" x="445" y="425" text-anchor="middle">Vegf-a</text>
<text class="t8" x="447" y="439" text-anchor="middle">P=0.0052</text>
<line x1="433" y1="442" x2="462" y2="442" stroke="#111" stroke-width=".9"/>
<line x1="408" y1="440" x2="408" y2="548" stroke="#111" stroke-width=".9"/>
<line x1="408" y1="548" x2="480" y2="548" stroke="#111" stroke-width=".9"/>
<path d="M405,440H408M405,476H408M405,512H408M405,548H408M433.5,548V551M464,548V551" stroke="#111" stroke-width=".8"/>
<g class="t8" text-anchor="end"><text x="404" y="443">3</text><text x="404" y="479">2</text><text x="404" y="515">1</text><text x="404" y="551">0</text></g>
<rect x="423" y="511" width="21" height="37" fill="#fff" stroke="#3a3aff" stroke-width="1.6"/>
<rect x="454" y="480.7" width="20" height="67.3" fill="#fff" stroke="#ff9933" stroke-width="1.6"/>
<path d="M433.5,499.4V522.8M429,499.4H438M429,522.8H438" stroke="#9f9fff" stroke-width="1"/>
<path d="M464,463.4V497.6M459,463.4H469M459,497.6H469" stroke="#ffc080" stroke-width="1"/>
<g fill="#111"><circle cx="434" cy="497.6" r="1.5"/><circle cx="431" cy="501" r="1.5"/><circle cx="428" cy="512" r="1.5"/><circle cx="438" cy="512" r="1.5"/><circle cx="429" cy="522.8" r="1.5"/><circle cx="436" cy="524.6" r="1.5"/>
<circle cx="463" cy="459.8" r="1.5"/><circle cx="458" cy="461" r="1.5"/><circle cx="461" cy="477.8" r="1.5"/><circle cx="458" cy="483" r="1.5"/><circle cx="464" cy="490.4" r="1.5"/><circle cx="460" cy="501" r="1.5"/></g>
<text class="t8" x="393" y="495" transform="rotate(-90 393 495)" text-anchor="middle">Relative gene expression</text>
<text class="t9" x="434" y="560" text-anchor="middle">Con</text>
<text class="t9" x="464" y="560" text-anchor="middle">MI</text>
<text class="t9" x="562" y="425" text-anchor="middle">IL-10</text>
<text class="t8" x="562" y="439" text-anchor="middle">P=0.0057</text>
<line x1="548" y1="442" x2="575" y2="442" stroke="#111" stroke-width=".9"/>
<line x1="518" y1="440" x2="518" y2="547" stroke="#111" stroke-width=".9"/>
<line x1="518" y1="547" x2="593" y2="547" stroke="#111" stroke-width=".9"/>
<path d="M516,440H518M516,466.75H518M516,493.5H518M516,520.25H518M516,547H518M547,547V550M578,547V550" stroke="#111" stroke-width=".8"/>
<g class="t8" text-anchor="end"><text x="515.5" y="443">4</text><text x="515.5" y="469.7">3</text><text x="515.5" y="496.5">2</text><text x="515.5" y="523.2">1</text><text x="515.5" y="550">0</text></g>
<rect x="537" y="520.25" width="20" height="26.75" fill="#fff" stroke="#3a3aff" stroke-width="1.6"/>
<rect x="568" y="482.8" width="20" height="64.2" fill="#fff" stroke="#ffb070" stroke-width="1.6"/>
<path d="M578,456V508.2M573,456H583M573,508.2H583" stroke="#ffd0a0" stroke-width="1"/>
<g fill="#111"><circle cx="543" cy="517.6" r="1.5"/><circle cx="551" cy="517.6" r="1.5"/><circle cx="547" cy="520" r="1.5"/><circle cx="552" cy="521.6" r="1.5"/><circle cx="545" cy="524.3" r="1.5"/>
<circle cx="578" cy="445.3" r="1.5"/><circle cx="578" cy="456" r="1.5"/><circle cx="579" cy="490.8" r="1.5"/><circle cx="576" cy="493.5" r="1.5"/><circle cx="580" cy="496" r="1.5"/><circle cx="578" cy="512" r="1.5"/></g>
<text class="t8" x="508" y="495" transform="rotate(-90 508 495)" text-anchor="middle">Relative gene expression</text>
<text class="t9" x="547" y="559" text-anchor="middle">Con</text>
<text class="t9" x="578" y="559" text-anchor="middle">MI</text>

<!-- ============ L ============ -->
<text class="pl" x="603" y="403">L</text>
<text class="t8" x="698" y="425" text-anchor="middle">Lrg1</text>
<text class="t8" x="707" y="440" text-anchor="middle">P=6.5*10<tspan dy="-3" style="font-size:5px">-7</tspan></text>
<line x1="692" y1="443" x2="720" y2="443" stroke="#111" stroke-width=".9"/>
<line x1="668" y1="444" x2="668" y2="547" stroke="#111" stroke-width=".9"/>
<line x1="668" y1="547" x2="737" y2="547" stroke="#111" stroke-width=".9"/>
<path d="M665,444H668M665,469.75H668M665,495.5H668M665,521.25H668M665,547H668M685,547V550M717,547V550" stroke="#111" stroke-width=".8"/>
<g class="t8" text-anchor="end"><text x="663" y="447">2.0</text><text x="663" y="472.7">1.5</text><text x="663" y="498.5">1.0</text><text x="663" y="524.2">0.5</text><text x="663" y="550">0.0</text></g>
<path d="M717,475.9V503.2M713,475.9H721M713,503.2H721" stroke="#ffb070" stroke-width=".9"/>
<path d="M685,538V545" stroke="#8080ff" stroke-width=".9"/>
<g fill="#2a2aff"><circle cx="681" cy="536.7" r="1.5"/><circle cx="689" cy="537.7" r="1.5"/><circle cx="684" cy="539.3" r="1.5"/><circle cx="686" cy="541.9" r="1.5"/><circle cx="680" cy="542.9" r="1.5"/><circle cx="690" cy="544.4" r="1.5"/><circle cx="685" cy="545.5" r="1.5"/></g>
<g fill="#ff8c1a"><circle cx="718" cy="468.7" r="1.5"/><circle cx="716" cy="481.6" r="1.5"/><circle cx="714" cy="490.4" r="1.5"/><circle cx="719" cy="498" r="1.5"/><circle cx="713" cy="503.2" r="1.5"/><circle cx="721" cy="504.3" r="1.5"/></g>
<path d="M675,541.85H695M707,489.3H727" stroke="#222" stroke-width="1.3"/>
<text class="t8" x="635" y="492" transform="rotate(-90 635 492)" text-anchor="middle">H3K18la relative enrichment</text>
<text class="t8" x="650" y="487" transform="rotate(-90 650 487)" text-anchor="middle">%input</text>
<text class="t9" x="685" y="559" text-anchor="middle">Con</text>
<text class="t9" x="717" y="559" text-anchor="middle">MI</text>
<text class="t8" x="840" y="425" text-anchor="middle">Vegf-a</text>
<text class="t8" x="847" y="440" text-anchor="middle">P=6.0*10<tspan dy="-3" style="font-size:5px">-8</tspan></text>
<line x1="832" y1="443" x2="858" y2="443" stroke="#111" stroke-width=".9"/>
<line x1="799" y1="444" x2="799" y2="547" stroke="#111" stroke-width=".9"/>
<line x1="799" y1="547" x2="867" y2="547" stroke="#111" stroke-width=".9"/>
<path d="M796,444H799M796,469.75H799M796,495.5H799M796,521.25H799M796,547H799M825,547V550M857,547V550" stroke="#111" stroke-width=".8"/>
<g class="t8" text-anchor="end"><text x="794" y="447">0.8</text><text x="794" y="472.7">0.6</text><text x="794" y="498.5">0.4</text><text x="794" y="524.2">0.2</text><text x="794" y="550">0.0</text></g>
<path d="M857,473V514.8M853,473H861M853,514.8H861" stroke="#ffb070" stroke-width=".9"/>
<path d="M825,533V541" stroke="#8080ff" stroke-width=".9"/>
<g fill="#2a2aff"><circle cx="824" cy="531.5" r="1.5"/><circle cx="828" cy="533" r="1.5"/><circle cx="821" cy="535.5" r="1.5"/><circle cx="826" cy="536.7" r="1.5"/><circle cx="830" cy="539.3" r="1.5"/><circle cx="822" cy="540.5" r="1.5"/><circle cx="827" cy="541.2" r="1.5"/></g>
<g fill="#ff8c1a"><circle cx="856" cy="456.9" r="1.5"/><circle cx="859" cy="476.2" r="1.5"/><circle cx="853" cy="499.4" r="1.5"/><circle cx="858" cy="508.4" r="1.5"/><circle cx="855" cy="511" r="1.5"/><circle cx="860" cy="514.8" r="1.5"/></g>
<path d="M815,536.7H835M847,494.2H867" stroke="#222" stroke-width="1.3"/>
<text class="t8" x="766" y="492" transform="rotate(-90 766 492)" text-anchor="middle">H3K18la relative enrichment</text>
<text class="t8" x="783" y="487" transform="rotate(-90 783 487)" text-anchor="middle">%input</text>
<text class="t9" x="825" y="559" text-anchor="middle">Con</text>
<text class="t9" x="857" y="559" text-anchor="middle">MI</text>
<text class="t8" x="977" y="425" text-anchor="middle">IL-10</text>
<text class="t8" x="983" y="440" text-anchor="middle">P=2.5*10<tspan dy="-3" style="font-size:5px">-9</tspan></text>
<line x1="963" y1="443" x2="995" y2="443" stroke="#111" stroke-width=".9"/>
<line x1="938" y1="443" x2="938" y2="547" stroke="#111" stroke-width=".9"/>
<line x1="938" y1="547" x2="1007" y2="547" stroke="#111" stroke-width=".9"/>
<path d="M935,443H938M935,463.8H938M935,484.6H938M935,505.4H938M935,526.2H938M935,547H938M957,547V550M987,547V550" stroke="#111" stroke-width=".8"/>
<g class="t8" text-anchor="end"><text x="933" y="446">0.5</text><text x="933" y="466.8">0.4</text><text x="933" y="487.6">0.3</text><text x="933" y="508.4">0.2</text><text x="933" y="529.2">0.1</text><text x="933" y="550">0.0</text></g>
<path d="M987,470V486.7M983,470H991M983,486.7H991" stroke="#ffb070" stroke-width=".9"/>
<path d="M957,529.5V538.7M953,529.5H961" stroke="#8080ff" stroke-width=".9"/>
<g fill="#2a2aff"><circle cx="957" cy="526.2" r="1.5"/><circle cx="953" cy="530.4" r="1.5"/><circle cx="960" cy="532.5" r="1.5"/><circle cx="955" cy="536.6" r="1.5"/><circle cx="961" cy="538.7" r="1.5"/><circle cx="954" cy="539.5" r="1.5"/></g>
<g fill="#ff8c1a"><circle cx="988" cy="465.9" r="1.5"/><circle cx="985" cy="470" r="1.5"/><circle cx="990" cy="472.2" r="1.5"/><circle cx="986" cy="478.4" r="1.5"/><circle cx="989" cy="482.5" r="1.5"/><circle cx="985" cy="486.7" r="1.5"/><circle cx="987" cy="490.8" r="1.5"/></g>
<path d="M947,534.5H967M977,478.4H997" stroke="#222" stroke-width="1.3"/>
<text class="t8" x="905" y="492" transform="rotate(-90 905 492)" text-anchor="middle">H3K18la relative enrichment</text>
<text class="t8" x="916" y="487" transform="rotate(-90 916 487)" text-anchor="middle">%input</text>
<text class="t9" x="957" y="559" text-anchor="middle">Con</text>
<text class="t9" x="987" y="559" text-anchor="middle">MI</text>
</svg>
</body></html>
